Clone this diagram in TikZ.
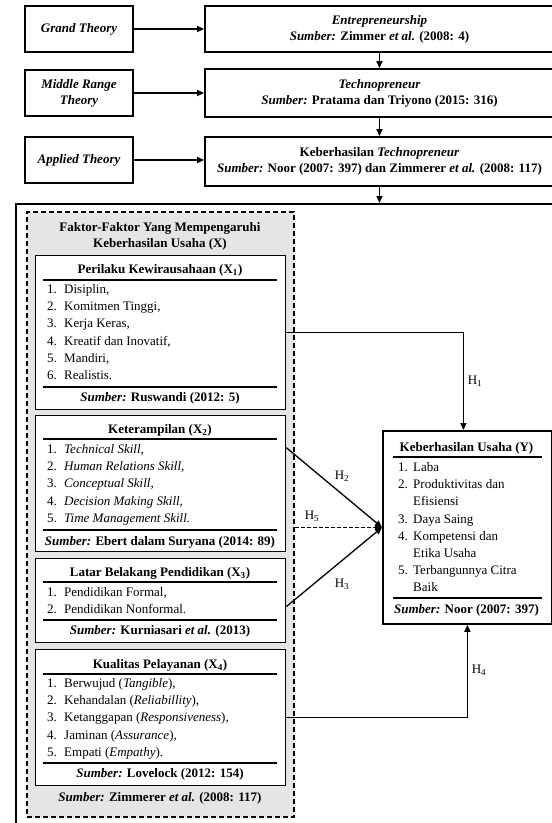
\documentclass[tikz,border=0pt]{standalone}
\usepackage{fontspec}
\setmainfont{Liberation Serif}
\usetikzlibrary{arrows.meta}

\tikzset{
  thbox/.style={draw, line width=1.8pt, minimum width=108pt, minimum height=46pt, inner sep=1pt, align=center, font=\bfseries\itshape},
  srcbox/.style={draw, line width=1.8pt, minimum width=349pt, minimum height=46pt, inner sep=1pt, align=center, font=\bfseries},
  varbox/.style={draw, fill=white, line width=1.3pt, minimum width=250pt, anchor=north west},
  hd/.style={anchor=base, inner sep=0pt, font=\bfseries},
  itm/.style={anchor=base west, inner sep=0pt},
  rulel/.style={line width=1.3pt},
  conn/.style={line width=1.3pt, -{Triangle[length=7pt,width=6pt]}},
  hlab/.style={anchor=base, inner sep=0pt}
}

\begin{document}
\fontsize{13}{16}\selectfont
\begin{tikzpicture}[x=1pt,y=-1pt]
\path[use as bounding box, clip] (0,0) rectangle (552,823);

% Theory levels
\node[thbox] (gt) at (79,29) {Grand Theory};
\node[thbox] (mrt) at (79,93) {Middle Range\\Theory};
\node[thbox] (at) at (79,160) {Applied Theory};

\node[srcbox] (ent) at (379.5,29) {\textit{Entrepreneurship}\\\textit{Sumber:} Zimmer \textit{et al.} (2008: 4)};
\node[srcbox, minimum height=48pt] (tec) at (379.5,93) {\textit{Technopreneur}\\\textit{Sumber:} Pratama dan Triyono (2015: 316)};
\node[srcbox, minimum height=49pt] (kt) at (379.5,161.5) {Keberhasilan \textit{Technopreneur}\\\textit{Sumber:} Noor (2007: 397) dan Zimmerer \textit{et al.} (2008: 117)};

\draw[conn] (gt) -- (ent);
\draw[conn] (mrt) -- (tec);
\draw[conn] (at.east) -- (at.east -| kt.west);
\draw[conn] (ent.south) -- (tec.north);
\draw[conn] (tec.south) -- (kt.north);

% Outer frame and group of factors
\node[draw, line width=1.8pt, minimum width=565pt, minimum height=647pt, anchor=north west] (frame) at (15,203) {};
\draw[conn] (kt.south) -- (kt.south |- frame.north);

\node[draw, fill=gray!20, line width=1.8pt, dash pattern=on 5pt off 3pt, minimum width=267pt, minimum height=605pt, anchor=north west] (grp) at (26,211) {};
\node[hd] (grpt1) at (160,231.5) {Faktor-Faktor Yang Mempengaruhi};
\node[hd] (grpt2) at (160,247.5) {Keberhasilan Usaha (X)};
\node[hd] (grps) at (160,801.5) {\textit{Sumber:} Zimmerer \textit{et al.} (2008: 117)};

% X1
\node[varbox, minimum height=154pt] (x1) at (35,255) {};
\node[hd] (x1t) at (160,273.5) {Perilaku Kewirausahaan (X\textsubscript{1})};
\draw[rulel] (43,280) -- (277,280);
\foreach \t [count=\n] in {{Disiplin,},{Komitmen Tinggi,},{Kerja Keras,},{Kreatif dan Inovatif,},{Mandiri,},{Realistis.}}{
  \node[itm] (x1n\n) at (47,{293.5+17.2*(\n-1)}) {\n.};
  \node[itm] (x1i\n) at (64,{293.5+17.2*(\n-1)}) {\t};
}
\draw[rulel] (43,387) -- (277,387);
\node[hd] (x1s) at (160,401.5) {\textit{Sumber:} Ruswandi (2012: 5)};

% X2
\node[varbox, minimum height=136pt] (x2) at (35,415) {};
\node[hd] (x2t) at (160,433.5) {Keterampilan (X\textsubscript{2})};
\draw[rulel] (43,439) -- (277,439);
\foreach \t [count=\n] in {{Technical Skill,},{Human Relations Skill,},{Conceptual Skill,},{Decision Making Skill,},{Time Management Skill.}}{
  \node[itm] (x2n\n) at (47,{453.5+17.2*(\n-1)}) {\n.};
  \node[itm] (x2i\n) at (64,{453.5+17.2*(\n-1)}) {\textit{\t}};
}
\draw[rulel] (43,530) -- (277,530);
\node[hd] (x2s) at (160,545.5) {\textit{Sumber:} Ebert dalam Suryana (2014: 89)};

% X3
\node[varbox, minimum height=84pt] (x3) at (35,558) {};
\node[hd] (x3t) at (160,576.5) {Latar Belakang Pendidikan (X\textsubscript{3})};
\draw[rulel] (43,582) -- (277,582);
\foreach \t [count=\n] in {{Pendidikan Formal,},{Pendidikan Nonformal.}}{
  \node[itm] (x3n\n) at (47,{596.5+17.2*(\n-1)}) {\n.};
  \node[itm] (x3i\n) at (64,{596.5+17.2*(\n-1)}) {\t};
}
\draw[rulel] (43,620) -- (277,620);
\node[hd] (x3s) at (160,634.5) {\textit{Sumber:} Kurniasari \textit{et al.} (2013)};

% X4
\node[varbox, minimum height=136pt] (x4) at (35,649) {};
\node[hd] (x4t) at (160,668.5) {Kualitas Pelayanan (X\textsubscript{4})};
\draw[rulel] (43,674) -- (277,674);
\foreach \t [count=\n] in {{Berwujud (\textit{Tangible}),},{Kehandalan (\textit{Reliabillity}),},{Ketanggapan (\textit{Responsiveness}),},{Jaminan (\textit{Assurance}),},{Empati (\textit{Empathy}).}}{
  \node[itm] (x4n\n) at (47,{687.5+17.2*(\n-1)}) {\n.};
  \node[itm] (x4i\n) at (64,{687.5+17.2*(\n-1)}) {\t};
}
\draw[rulel] (43,763) -- (277,763);
\node[hd] (x4s) at (160,777.5) {\textit{Sumber:} Lovelock (2012: 154)};

% Y
\node[draw, fill=white, line width=1.8pt, minimum width=169pt, minimum height=193pt, anchor=north west] (yb) at (382,430) {};
\node[hd] (ybt) at (466.5,451.5) {Keberhasilan Usaha (Y)};
\draw[rulel] (393,457) -- (542,457);
\foreach \m/\t [count=\n] in {1./Laba,2./Produktivitas dan,/Efisiensi,3./Daya Saing,4./Kompetensi dan,/Etika Usaha,5./Terbangunnya Citra,/Baik}{
  \node[itm] (ybn\n) at (398,{471.5+17.2*(\n-1)}) {\m};
  \node[itm] (ybi\n) at (413,{471.5+17.2*(\n-1)}) {\t};
}
\draw[rulel] (393,598) -- (542,598);
\node[hd] (ybs) at (466.5,613.5) {\textit{Sumber:} Noor (2007: 397)};

% Hypotheses
\draw[conn] (x1.east) -| ([xshift=-4pt]yb.north);
\draw[conn] ([yshift=36pt]x2.east) -- (yb.west);
\draw[conn, dash pattern=on 4pt off 2pt] (grp.east |- yb.west) -- (yb.west);
\draw[conn] ([yshift=-6pt]x3.east) -- (yb.west);
\draw[conn] (x4.east) -| (yb.south);

\node[hlab] (h1) at (475,384.5) {H\textsubscript{1}};
\node[hlab] (h2) at (342,479.5) {H\textsubscript{2}};
\node[hlab] (h5) at (312,519.5) {H\textsubscript{5}};
\node[hlab] (h3) at (342,587.5) {H\textsubscript{3}};
\node[hlab] (h4) at (479,673.5) {H\textsubscript{4}};
\end{tikzpicture}
\end{document}
